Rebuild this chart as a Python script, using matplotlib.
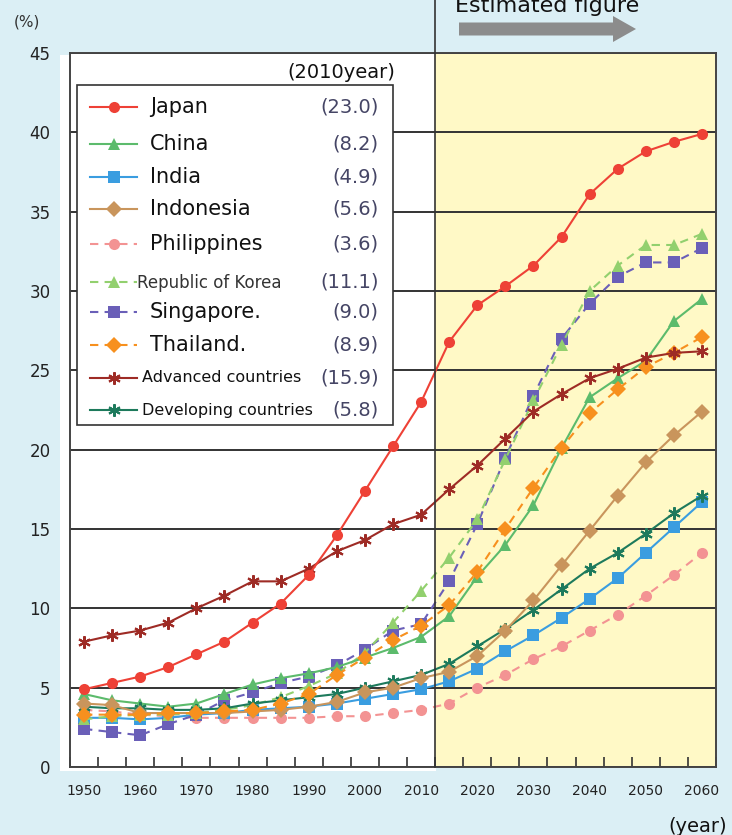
import matplotlib.pyplot as plt
from matplotlib.lines import Line2D
from matplotlib.patches import Rectangle, FancyArrow

# data (% of population aged 65+), 1950-2060 every 5 years
years = [1950, 1955, 1960, 1965, 1970, 1975, 1980, 1985, 1990, 1995, 2000, 2005,
         2010, 2015, 2020, 2025, 2030, 2035, 2040, 2045, 2050, 2055, 2060]
japan = [4.9, 5.3, 5.7, 6.3, 7.1, 7.9, 9.1, 10.3, 12.1, 14.6, 17.4, 20.2,
         23.0, 26.8, 29.1, 30.3, 31.6, 33.4, 36.1, 37.7, 38.8, 39.4, 39.9]
china = [4.6, 4.2, 4.0, 3.8, 4.0, 4.6, 5.2, 5.6, 5.9, 6.3, 6.9, 7.5,
         8.2, 9.5, 12.0, 14.0, 16.5, 20.1, 23.3, 24.5, 25.6, 28.1, 29.5]
india = [3.1, 3.1, 3.0, 3.1, 3.3, 3.4, 3.6, 3.7, 3.8, 4.0, 4.3, 4.6,
         4.9, 5.4, 6.2, 7.3, 8.3, 9.4, 10.6, 11.9, 13.5, 15.1, 16.7]
indonesia = [4.0, 3.9, 3.4, 3.4, 3.4, 3.4, 3.5, 3.6, 3.8, 4.1, 4.7, 5.0,
             5.6, 6.0, 7.0, 8.6, 10.5, 12.7, 14.9, 17.1, 19.2, 20.9, 22.4]
philippines = [3.6, 3.5, 3.3, 3.2, 3.1, 3.1, 3.1, 3.1, 3.1, 3.2, 3.2, 3.4,
               3.6, 4.0, 5.0, 5.8, 6.8, 7.6, 8.6, 9.6, 10.8, 12.1, 13.5]
korea = [3.0, 3.2, 3.3, 3.3, 3.4, 3.6, 3.9, 4.4, 5.1, 5.9, 7.2, 9.1,
         11.1, 13.2, 15.6, 19.4, 23.1, 26.6, 30.0, 31.6, 32.9, 32.9, 33.6]
singapore = [2.4, 2.2, 2.0, 2.7, 3.3, 4.2, 4.7, 5.3, 5.7, 6.4, 7.4, 8.6,
             9.0, 11.7, 15.3, 19.5, 23.4, 27.0, 29.2, 30.9, 31.8, 31.8, 32.7]
thailand = [3.3, 3.3, 3.3, 3.4, 3.4, 3.5, 3.6, 4.0, 4.6, 5.8, 6.9, 8.0,
            8.9, 10.2, 12.3, 15.0, 17.6, 20.1, 22.3, 23.8, 25.2, 26.1, 27.1]
advanced = [7.9, 8.3, 8.6, 9.1, 10.0, 10.8, 11.7, 11.7, 12.5, 13.6, 14.3, 15.3,
            15.9, 17.5, 19.0, 20.7, 22.4, 23.5, 24.5, 25.1, 25.8, 26.1, 26.2]
developing = [3.8, 3.7, 3.7, 3.6, 3.6, 3.7, 4.0, 4.2, 4.4, 4.6, 5.0, 5.4,
              5.8, 6.5, 7.6, 8.7, 9.9, 11.2, 12.5, 13.5, 14.7, 16.0, 17.1]

names = ['Japan', 'China', 'India', 'Indonesia', 'Philippines', 'Republic of Korea',
         'Singapore.', 'Thailand.', 'Advanced countries', 'Developing countries']
series = [japan, china, india, indonesia, philippines, korea,
          singapore, thailand, advanced, developing]

AST = (6, 2, 0)
styles = [
    dict(color='#ee4136', marker='o', ls='-', ms=8),
    dict(color='#5cbb6c', marker='^', ls='-', ms=9),
    dict(color='#3a9de0', marker='s', ls='-', ms=8),
    dict(color='#c9955c', marker='D', ls='-', ms=8),
    dict(color='#f39393', marker='o', ls=(0, (4, 3)), ms=8),
    dict(color='#92d06e', marker='^', ls=(0, (4, 3)), ms=9),
    dict(color='#6a5fb8', marker='s', ls=(0, (4, 3)), ms=9),
    dict(color='#f7901e', marker='D', ls=(0, (4, 3)), ms=8),
    dict(color='#9e2b25', marker=AST, ls='-', ms=9),
    dict(color='#1d7a5c', marker=AST, ls='-', ms=9),
]
draw_order = [4, 2, 6, 5, 1, 9, 3, 7, 8, 0]

W, H = 732, 835
fig = plt.figure(figsize=(W / 100, H / 100), dpi=100, facecolor='#dbeff5')

# white backing behind actual-figure area
fig.add_artist(Rectangle((60 / W, 1 - 771 / H), (436 - 60) / W, (771 - 55) / H,
                         transform=fig.transFigure, fc='white', ec='none', zorder=0))

ax = fig.add_axes([70 / W, 1 - 767 / H, 646 / W, 714 / H])
ax.set_facecolor('white')
x = list(range(len(years)))
ax.set_xlim(-0.5, len(years) - 0.5)
ax.set_ylim(0, 45)
ax.axvspan(12.5, len(years) - 0.5, color='#fff9c6', zorder=0)

for i in draw_order:
    st = styles[i]
    mew = 1.5 if st['marker'] == AST else 0
    ax.plot(x, series[i], color=st['color'], marker=st['marker'], ls=st['ls'],
            ms=st['ms'], lw=1.5, mew=mew, mec=st['color'], zorder=3)

ax.set_yticks(range(0, 46, 5))
ax.yaxis.grid(True, color='#333333', lw=1.4, zorder=1)
ax.set_axisbelow(True)
ax.tick_params(axis='y', length=0, pad=14, labelsize=12, labelcolor='#222222')
ax.set_xticks(x[::2])
ax.set_xticklabels([str(y) for y in years[::2]])
ax.set_xticks([i + 0.5 for i in range(-1, len(years))], minor=True)
ax.tick_params(axis='x', which='major', length=0, pad=12, labelsize=10, labelcolor='#222222')
ax.tick_params(axis='x', which='minor', direction='in', length=7, width=1.2, color='#333333')
for s in ax.spines.values():
    s.set_color('#444444')
    s.set_linewidth(1.4)

# divider between actual and estimated
ax.axvline(12.5, ymin=0, ymax=767 / 714, color='#333333', lw=1.2, clip_on=False, zorder=4)

# legend box drawn by hand
ax.add_patch(Rectangle((0.011, 0.479), 0.489, 0.476, transform=ax.transAxes,
                       fc='white', ec='#333333', lw=1.2, zorder=5))
rows_px = [107, 144, 177, 209, 244, 282, 312, 345, 378, 410]
idx2010 = years.index(2010)
for i, ypx in enumerate(rows_px):
    yf = (767 - ypx) / 714
    st = styles[i]
    mew = 1.5 if st['marker'] == AST else 0
    ax.add_line(Line2D([0.031, 0.0675, 0.104], [yf, yf, yf], transform=ax.transAxes,
                       color=st['color'], marker=st['marker'], ls=st['ls'], lw=1.5,
                       ms=st['ms'], mew=mew, mec=st['color'], markevery=[1], zorder=6))
    if i == 5:
        ax.text(0.104, yf - 0.002, names[i], transform=ax.transAxes, fontsize=12,
                color='#333333', va='center', ha='left', zorder=7)
    elif i >= 8:
        ax.text(0.112, yf, names[i], transform=ax.transAxes, fontsize=11.5,
                color='#111111', va='center', ha='left', zorder=7)
    else:
        ax.text(0.124, yf, names[i], transform=ax.transAxes, fontsize=15,
                color='#111111', va='center', ha='left', zorder=7)
    ax.text(0.478, yf, '(%.1f)' % series[i][idx2010], transform=ax.transAxes,
            fontsize=14, color='#454565', va='center', ha='right', zorder=7)

ax.text(0.503, (767 - 72) / 714, '(2010year)', transform=ax.transAxes,
        fontsize=14, color='#111111', va='center', ha='right')

fig.text(14 / W, 1 - 22 / H, '(%)', fontsize=11, color='#333333', va='center', ha='left')
fig.text(668 / W, 1 - 826 / H, '(year)', fontsize=14, color='#111111', va='center', ha='left')
fig.text(455 / W, 1 - 12 / H, 'Estimated figure', fontsize=16, color='#111111',
         va='baseline', ha='left')
fig.add_artist(FancyArrow(459 / W, 1 - 29 / H, (613 - 459) / W, 0,
                          width=13 / H, head_width=26 / H, head_length=23 / W,
                          length_includes_head=False, transform=fig.transFigure,
                          fc='#8c8c8c', ec='none'))

fig.savefig('out.png', dpi=100, facecolor=fig.get_facecolor())
